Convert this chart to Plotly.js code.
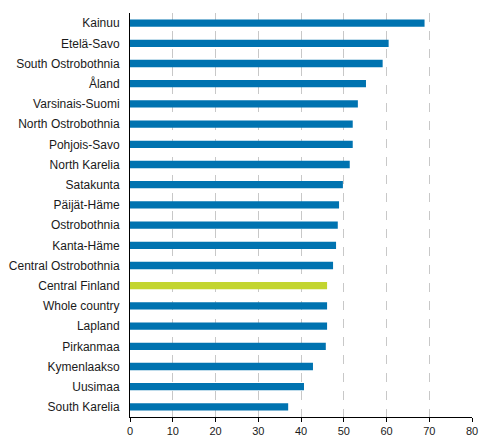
<!DOCTYPE html>
<html>
<head>
<meta charset="utf-8">
<script src="https://cdn.plot.ly/plotly-3.0.1.min.js"></script>
<style>
  html, body { margin: 0; padding: 0; background: #ffffff; }
  #chart { width: 493px; height: 447px; }
</style>
</head>
<body>
<div id="chart"></div>
<script>
// Regiones y valores
const regions = [
    'Kainuu', 'Etelä-Savo', 'South Ostrobothnia', 'Åland', 'Varsinais-Suomi',
    'North Ostrobothnia', 'Pohjois-Savo', 'North Karelia', 'Satakunta', 'Päijät-Häme',
    'Ostrobothnia', 'Kanta-Häme', 'Central Ostrobothnia', 'Central Finland', 'Whole country',
    'Lapland', 'Pirkanmaa', 'Kymenlaakso', 'Uusimaa', 'South Karelia'
];
const values = [
    68.9, 60.5, 59.1, 55.2, 53.3,
    52.1, 52.1, 51.4, 49.8, 48.9,
    48.6, 48.2, 47.5, 46.1, 46.1,
    46.1, 45.8, 42.8, 40.7, 37.0
];
const highlight = 'Central Finland';
const xTicks = [0, 10, 20, 30, 40, 50, 60, 70, 80];

const barColors = regions.map(r => r === highlight ? '#c3d52f' : '#0073b0');

const trace = {
    type: 'bar',
    orientation: 'h',
    x: values,
    y: regions,
    width: 0.36,
    marker: { color: barColors },
    hoverinfo: 'x+y'
};

const layout = {
    width: 493,
    height: 447,
    margin: { l: 130, r: 21, t: 13, b: 30 },
    paper_bgcolor: '#ffffff',
    plot_bgcolor: '#ffffff',
    showlegend: false,
    font: { family: "'Liberation Sans', Arial, sans-serif", size: 12, color: '#1a1a1a' },
    xaxis: {
        range: [0, 80],
        tickvals: xTicks,
        ticks: 'outside',
        ticklen: 4,
        tickcolor: '#000000',
        showline: true,
        linecolor: '#000000',
        linewidth: 1,
        showgrid: true,
        gridcolor: '#c8c8c8',
        griddash: 'dash',
        gridwidth: 1,
        zeroline: false,
        tickfont: { size: 11 },
        fixedrange: true
    },
    yaxis: {
        type: 'category',
        autorange: 'reversed',
        showline: true,
        linecolor: '#000000',
        linewidth: 1,
        showgrid: false,
        zeroline: false,
        ticks: '',
        ticklabelstandoff: 7,
        tickfont: { size: 12 },
        fixedrange: true
    }
};

Plotly.newPlot('chart', [trace], layout, { displayModeBar: false, responsive: false });
</script>
</body>
</html>
